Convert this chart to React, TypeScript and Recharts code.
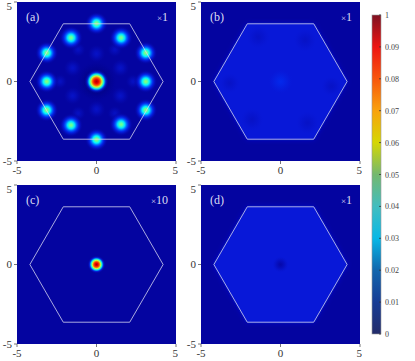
import { ScatterChart, Scatter, XAxis, YAxis, ReferenceArea } from 'recharts'

// axis and colour-bar ticks
const AXIS_TICKS = [-5, 0, 5]
const CB_TICKS = [0, 0.01, 0.02, 0.03, 0.04, 0.05, 0.06, 0.07, 0.08, 0.09, 0.1]
const CB_LABELS = ['0', '0.01', '0.02', '0.03', '0.04', '0.05', '0.06', '0.07', '0.08', '0.09', '1']

// Brillouin-zone hexagon (closed)
const HEX_K = [
  { x: 4.19, y: 0 },
  { x: 2.09, y: 3.63 },
  { x: -2.09, y: 3.63 },
  { x: -4.19, y: 0 },
  { x: -2.09, y: -3.63 },
  { x: 2.09, y: -3.63 },
  { x: 4.19, y: 0 },
]

// intensity spots: position (k units), peak value, width (k units)
const spotsA = [
  { x: 0, y: 0, v: 0.0, w: 1.4 },
  { x: 1.5, y: 0.85, v: 0.011, w: 0.6 },
  { x: 0, y: 1.75, v: 0.011, w: 0.6 },
  { x: -1.5, y: 0.85, v: 0.011, w: 0.6 },
  { x: -1.5, y: -0.9, v: 0.011, w: 0.6 },
  { x: 0, y: -1.75, v: 0.011, w: 0.6 },
  { x: 1.5, y: -0.9, v: 0.011, w: 0.6 },
  { x: 2.3, y: 0, v: 0.01, w: 0.5 },
  { x: 1.15, y: 2.0, v: 0.01, w: 0.5 },
  { x: -1.15, y: 2.0, v: 0.01, w: 0.5 },
  { x: -2.3, y: 0, v: 0.01, w: 0.5 },
  { x: -1.15, y: -2.0, v: 0.01, w: 0.5 },
  { x: 1.15, y: -2.0, v: 0.01, w: 0.5 },
  { x: 0, y: 3.65, v: 0.052, w: 0.74 },
  { x: 1.55, y: 2.75, v: 0.05, w: 0.76 },
  { x: 3.1, y: 1.8, v: 0.052, w: 0.74 },
  { x: 3.1, y: 0, v: 0.052, w: 0.74 },
  { x: 3.1, y: -1.8, v: 0.052, w: 0.74 },
  { x: 1.55, y: -2.7, v: 0.05, w: 0.76 },
  { x: 0, y: -3.65, v: 0.052, w: 0.74 },
  { x: -1.6, y: -2.75, v: 0.05, w: 0.76 },
  { x: -3.13, y: -1.8, v: 0.052, w: 0.74 },
  { x: -3.13, y: 0, v: 0.052, w: 0.74 },
  { x: -3.13, y: 1.8, v: 0.052, w: 0.74 },
  { x: -1.6, y: 2.75, v: 0.05, w: 0.76 },
  { x: 0, y: 0, v: 0.097, w: 0.78 },
]

const spotsB = [
  { x: -1.4, y: 2.8, v: 0.011, w: 0.8 },
  { x: 1.55, y: 2.6, v: 0.011, w: 0.8 },
  { x: -3.2, y: -0.1, v: 0.011, w: 0.7 },
  { x: 3.2, y: -0.3, v: 0.011, w: 0.7 },
  { x: -1.8, y: -2.4, v: 0.011, w: 0.8 },
  { x: 1.7, y: -2.6, v: 0.011, w: 0.8 },
  { x: 0, y: 0, v: 0.018, w: 0.8 },
]

const spotsC = [{ x: 0, y: 0, v: 0.097, w: 0.58 }]

const spotsD = [{ x: 0, y: 0, v: 0.006, w: 0.55 }]

// colour map for the panels (value / 0.1 -> colour)
const HEAT = [
  [0, '#000070'],
  [0.04, '#0404a0'],
  [0.14, '#0818d8'],
  [0.22, '#0038ff'],
  [0.375, '#00ffff'],
  [0.5, '#80ff80'],
  [0.625, '#ffff00'],
  [0.8, '#ff4000'],
  [0.9, '#ff0000'],
  [1, '#900000'],
] as const

// colour-bar gradient as drawn
const BAR = [
  [0, '#232c6a'],
  [0.1, '#173c95'],
  [0.2, '#1266ad'],
  [0.3, '#08b8e6'],
  [0.4, '#42bdbf'],
  [0.5, '#74b86e'],
  [0.6, '#d5d703'],
  [0.7, '#f9a20d'],
  [0.8, '#f8560c'],
  [0.9, '#ee1411'],
  [1, '#7e1121'],
] as const

const SERIF = "'Liberation Serif', 'DejaVu Serif', serif"
const PX = 159 / 10
const STOP_AT = [0, 0.15, 0.3, 0.45, 0.6, 0.75, 0.88, 1]
const PROFILE = [1, 0.88, 0.68, 0.48, 0.32, 0.18, 0.07, 0]
const CORE_PROFILE = [1, 0.95, 0.8, 0.57, 0.36, 0.19, 0.07, 0]
const FADE = [1, 1, 1, 1, 0.9, 0.65, 0.3, 0]
const BG = 0.004
const HEX_LEVEL = 0.014

function hex2rgb(h: string) {
  return [1, 3, 5].map((i) => parseInt(h.slice(i, i + 2), 16))
}

function heat(v: number) {
  const t = Math.max(0, Math.min(1, v / 0.1))
  for (let i = 1; i < HEAT.length; i++) {
    const [t1, c1] = HEAT[i]
    const [t0, c0] = HEAT[i - 1]
    if (t <= t1) {
      const f = (t - t0) / (t1 - t0)
      const a = hex2rgb(c0)
      const b = hex2rgb(c1)
      const rgb = a.map((x, k) => Math.round(x + (b[k] - x) * f))
      return `rgb(${rgb.join(',')})`
    }
  }
  return HEAT[HEAT.length - 1][1]
}

function blobShape(tag: string, base: number) {
  return (props: any) => {
    const { cx, cy, payload } = props
    const id = `s-${tag}-${Math.round(cx)}-${Math.round(cy)}-${payload.w}`
    const prof = payload.v > 0.08 ? CORE_PROFILE : PROFILE
    return (
      <g>
        <defs>
          <radialGradient id={id}>
            {STOP_AT.map((o, i) => (
              <stop
                key={i}
                offset={o}
                stopColor={heat(base + (payload.v - base) * prof[i])}
                stopOpacity={FADE[i]}
              />
            ))}
          </radialGradient>
        </defs>
        <circle cx={cx} cy={cy} r={payload.w * PX} fill={`url(#${id})`} />
      </g>
    )
  }
}

function hexFill(id: string, level: number) {
  return (props: any) => {
    const pts = (props.points || []).map((p: any) => `${p.x},${p.y}`).join(' ')
    return (
      <g>
        <defs>
          <filter id={id} x="-20%" y="-20%" width="140%" height="140%">
            <feGaussianBlur stdDeviation="2.5" />
          </filter>
        </defs>
        <polygon points={pts} fill={heat(level)} filter={`url(#${id})`} />
        <polygon points={pts} fill={heat(level)} />
      </g>
    )
  }
}

const noShape = () => <g />

const tickStyle = { fontSize: 11, fill: '#333', fontFamily: SERIF }

function Panel({
  left,
  top,
  tag,
  scale,
  spots,
  filled,
}: {
  left: number
  top: number
  tag: string
  scale: string
  spots: { x: number; y: number; v: number; w: number }[]
  filled: boolean
}) {
  const base = filled ? HEX_LEVEL : BG
  const label = { position: 'absolute' as const, color: '#dcdcf2', fontFamily: SERIF, fontSize: 12, lineHeight: '14px' }
  return (
    <div style={{ position: 'absolute', left, top }}>
      <ScatterChart width={178} height={179} margin={{ top: 2, right: 2, bottom: 0, left: 0 }}>
        <XAxis
          type="number"
          dataKey="x"
          domain={[-5, 5]}
          ticks={AXIS_TICKS}
          allowDataOverflow
          axisLine={false}
          tickSize={3}
          tickMargin={2}
          height={18}
          tick={tickStyle}
          tickLine={{ stroke: '#777' }}
        />
        <YAxis
          type="number"
          dataKey="y"
          domain={[-5, 5]}
          ticks={AXIS_TICKS}
          allowDataOverflow
          axisLine={false}
          tickSize={3}
          tickMargin={2}
          width={17}
          tick={tickStyle}
          tickLine={{ stroke: '#777' }}
        />
        <ReferenceArea x1={-5} x2={5} y1={-5} y2={5} fill={heat(BG)} fillOpacity={1} stroke="none" />
        {filled && (
          <Scatter
            data={HEX_K}
            shape={noShape}
            line={hexFill(`hf-${tag}`, HEX_LEVEL)}
            isAnimationActive={false}
          />
        )}
        <Scatter data={spots} shape={blobShape(tag, base)} isAnimationActive={false} />
        <Scatter
          data={HEX_K}
          shape={noShape}
          line={{ stroke: '#d4d4f0', strokeWidth: 0.8 }}
          isAnimationActive={false}
        />
      </ScatterChart>
      <span style={{ ...label, left: 26, top: 10 }}>({tag})</span>
      <span style={{ ...label, right: 10, top: 10 }}>
        <span style={{ fontSize: 9 }}>×</span>
        {scale}
      </span>
    </div>
  )
}

const cbPoints = CB_TICKS.map((t) => ({ x: 0.5, y: t }))

function cbLabel(value: number) {
  const i = CB_TICKS.findIndex((t) => Math.abs(t - value) < 1e-9)
  return i < 0 ? '' : CB_LABELS[i]
}

function ColorBar() {
  return (
    <div style={{ position: 'absolute', left: 363, top: 0 }}>
      <ScatterChart width={52} height={340} margin={{ top: 15, right: 0, bottom: 6, left: 9 }}>
        <XAxis type="number" dataKey="x" domain={[0, 1]} hide />
        <YAxis
          type="number"
          dataKey="y"
          orientation="right"
          domain={[0, 0.1]}
          ticks={CB_TICKS}
          interval={0}
          width={34}
          axisLine={false}
          tickLine={false}
          tickSize={0}
          tickMargin={4}
          tick={(p: any) => (
            <g>
              <line x1={p.x - 6} x2={p.x - 4} y1={p.y} y2={p.y} stroke="#333" strokeWidth={0.8} />
              <text x={p.x} y={p.y} dy={3} fontSize={8} fill="#444" fontFamily={SERIF}>
                {cbLabel(p.payload.value)}
              </text>
            </g>
          )}
        />
        <ReferenceArea
          x1={0}
          x2={1}
          y1={0}
          y2={0.1}
          shape={(p: any) => (
            <g>
              <defs>
                <linearGradient id="cbar" x1="0" y1="1" x2="0" y2="0">
                  {BAR.map(([o, c]) => (
                    <stop key={o} offset={o} stopColor={c} />
                  ))}
                </linearGradient>
              </defs>
              <rect x={p.x} y={p.y} width={p.width} height={p.height} fill="url(#cbar)" stroke="#999" strokeWidth={0.6} />
            </g>
          )}
        />
        <Scatter data={cbPoints} shape={noShape} isAnimationActive={false} />
      </ScatterChart>
    </div>
  )
}

export default function App() {
  return (
    <div style={{ position: 'absolute', left: 0, top: 0, width: 415, height: 361, overflow: 'hidden', background: '#fff' }}>
      <Panel left={0} top={0} tag="a" scale="1" spots={spotsA} filled={false} />
      <Panel left={184} top={0} tag="b" scale="1" spots={spotsB} filled />
      <Panel left={0} top={183} tag="c" scale="10" spots={spotsC} filled={false} />
      <Panel left={184} top={183} tag="d" scale="1" spots={spotsD} filled />
      <ColorBar />
    </div>
  )
}
